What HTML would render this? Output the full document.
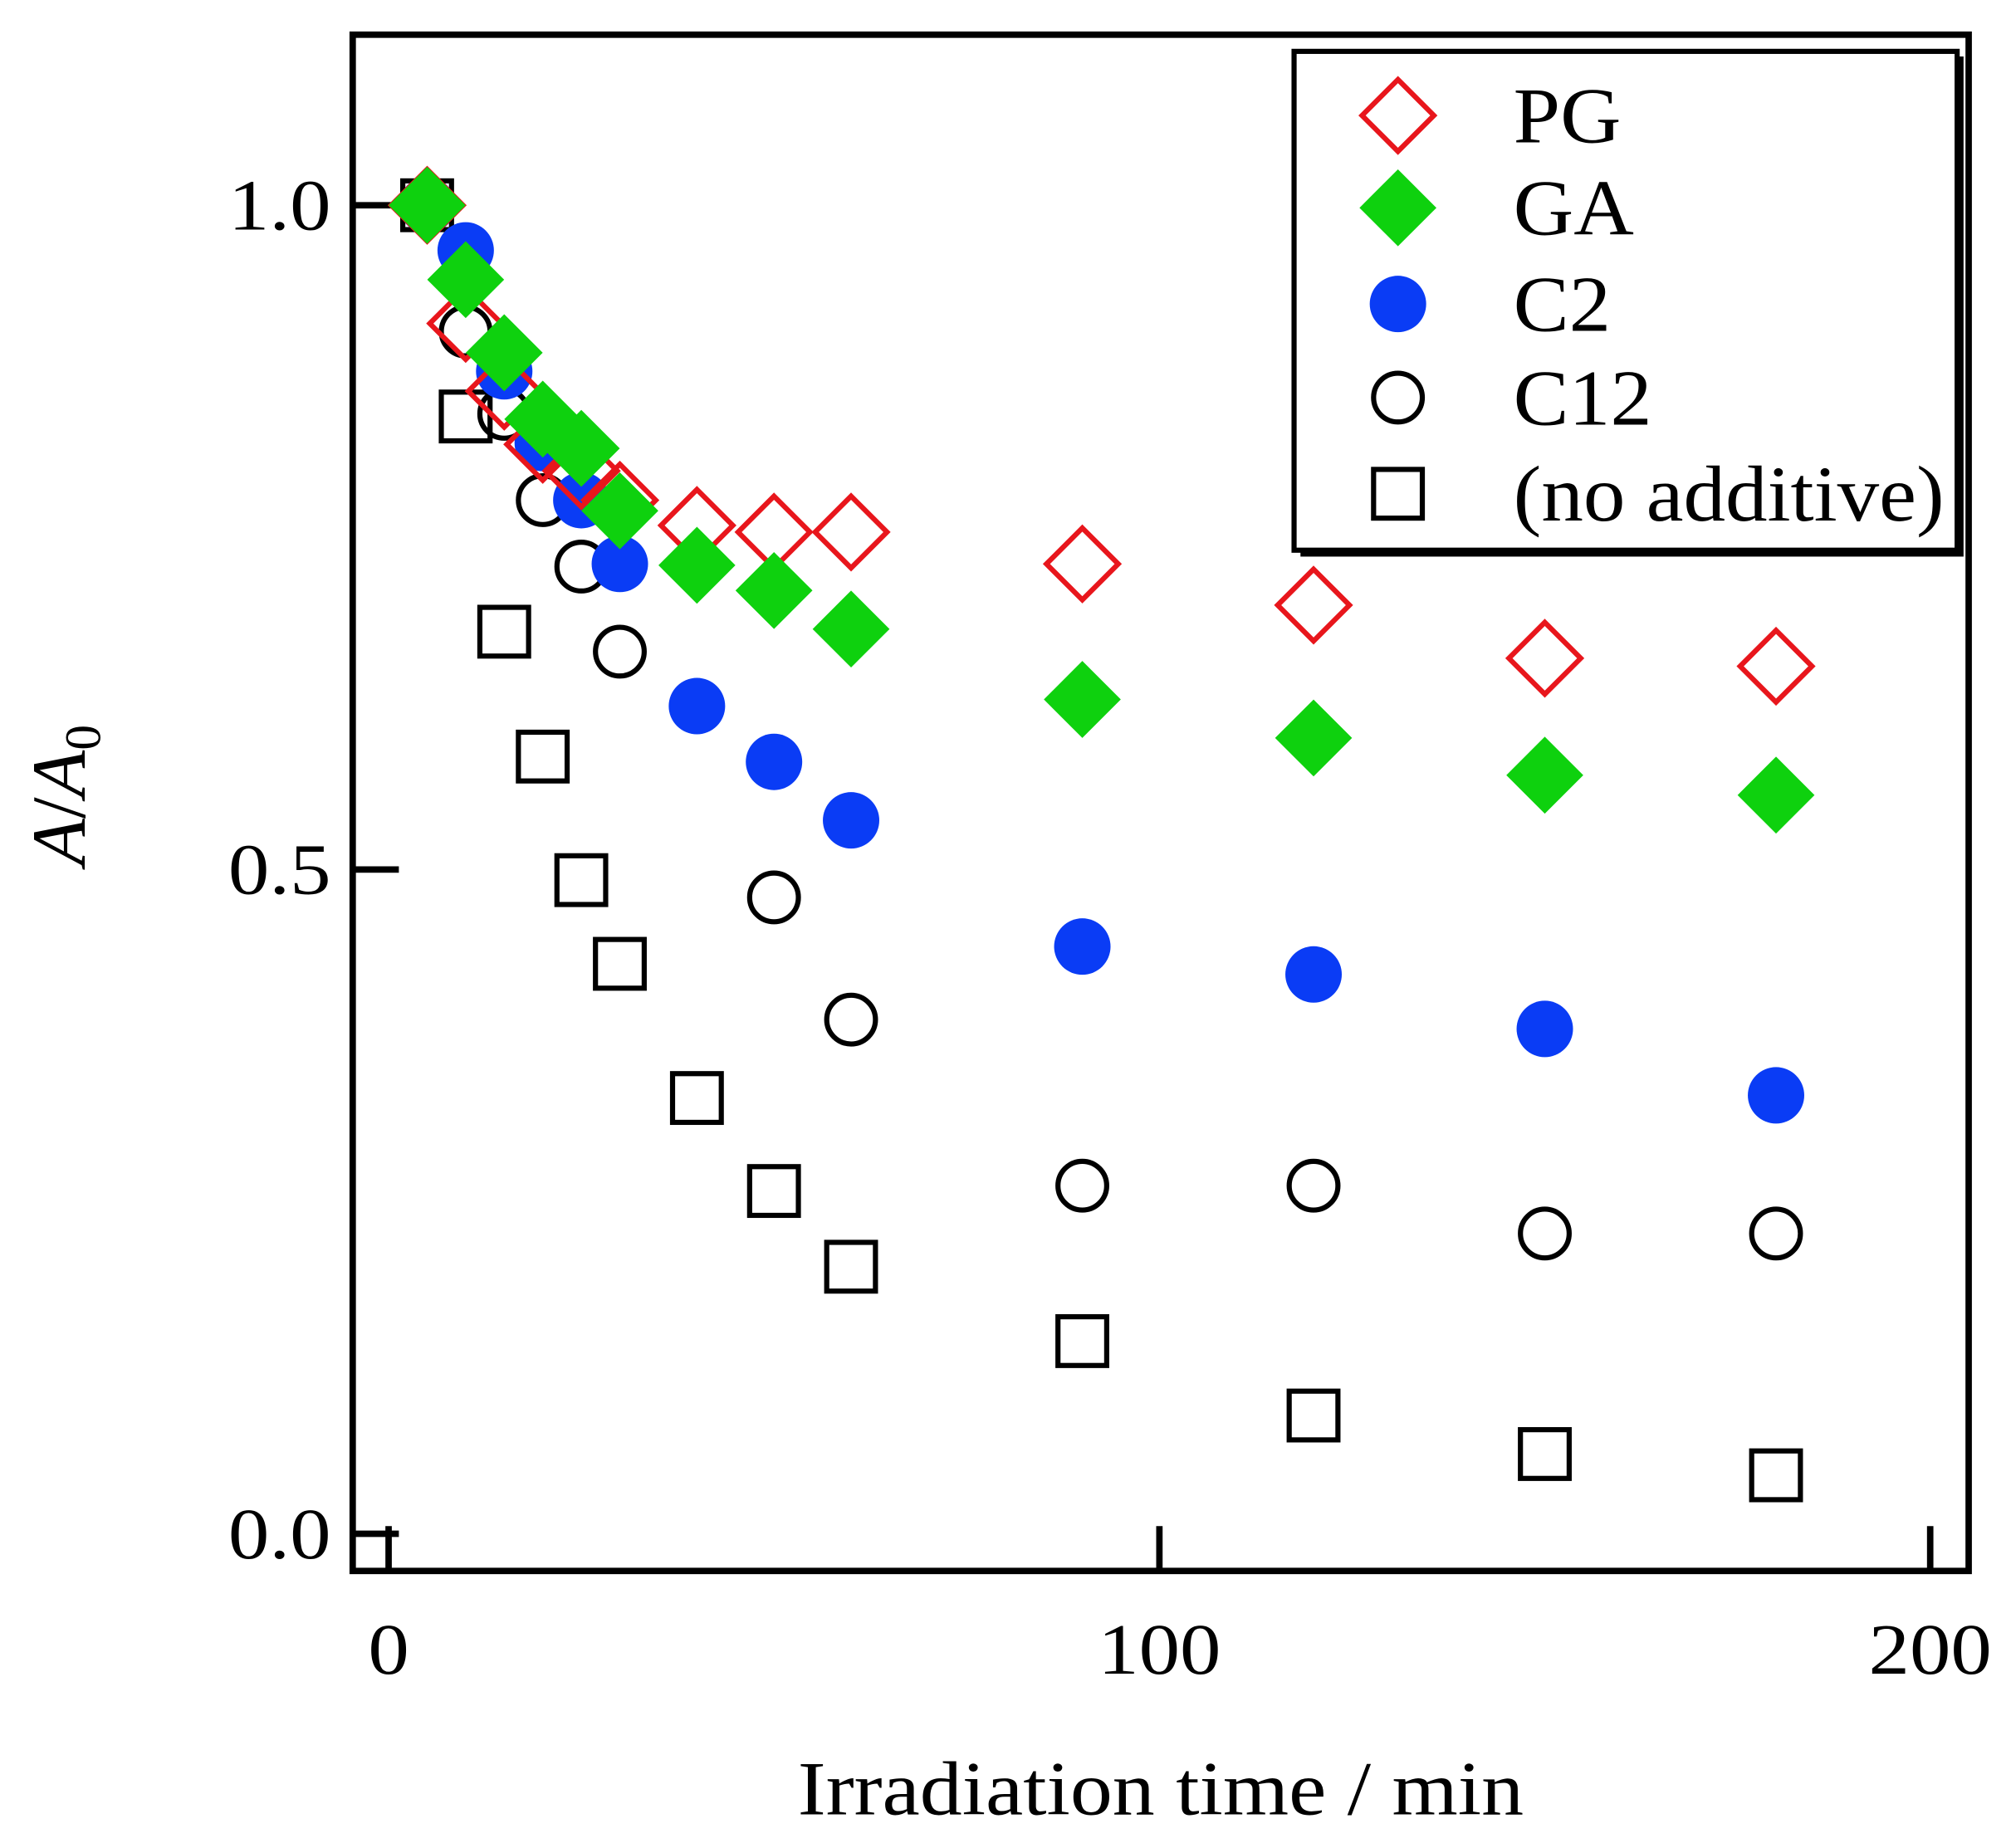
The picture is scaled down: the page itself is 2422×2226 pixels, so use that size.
<!DOCTYPE html>
<html><head><meta charset="utf-8"><style>
html,body{margin:0;padding:0;background:#fff}
svg{display:block}
text{font-family:"Liberation Serif",serif;fill:#000}
</style></head><body>
<svg id="chart" width="2422" height="2226" viewBox="0 0 1568 1441" xmlns="http://www.w3.org/2000/svg">
<rect x="275" y="27" width="1260" height="1198" fill="none" stroke="#000" stroke-width="5"/>
<g id="axes"></g>
<g id="marks"></g>
<g>
<rect x="1014" y="44" width="517" height="390" fill="#000"/>
<rect x="1009" y="40" width="517" height="389" fill="#fff" stroke="#000" stroke-width="4"/>
<g id="legend-items"></g>
</g>
<text x="622" y="1415" font-size="60" textLength="566" lengthAdjust="spacingAndGlyphs">Irradiation time / min</text>
<text transform="translate(66,620) rotate(-90)" font-size="60" text-anchor="middle"><tspan font-style="italic">A</tspan>/<tspan font-style="italic">A</tspan><tspan font-size="40" dy="12">0</tspan></text>
</svg>
<script>
const times=[5,10,15,20,25,30,40,50,60,90,120,150,180];
const pg=[1.0,0.911,0.86,0.82,0.80,0.778,0.759,0.754,0.754,0.730,0.699,0.659,0.653];
const ga=[1.0,0.944,0.889,0.839,0.817,0.770,0.729,0.710,0.681,0.628,0.599,0.571,0.556];
const c2=[1.0,0.966,0.875,0.821,0.778,0.730,0.623,0.581,0.537,0.442,0.421,0.380,0.330];
const c12=[1.0,0.905,0.843,0.778,0.728,0.664,null,0.479,0.387,0.262,0.262,0.226,0.226];
const none=[1.0,0.841,0.679,0.585,0.492,0.429,0.328,0.258,0.201,0.145,0.089,0.060,0.044];
const xTicks=[0,100,200];
const yTicks=[0.0,0.5,1.0];
const yTickLabels=["0.0","0.5","1.0"];
const legendLabels=["PG","GA","C2","C12","(no additive)"];
const legendWidths=[84,94,76,108,336];
const NS="http://www.w3.org/2000/svg";
function xs(v){return 303+v*6.01;}
function ys(v){return 1196-v*1036;}
function mk(tag,attrs,parent){const e=document.createElementNS(NS,tag);for(const k in attrs)e.setAttribute(k,attrs[k]);parent.appendChild(e);return e;}
const axes=document.getElementById('axes');
xTicks.forEach(t=>{
 const l=mk('line',{x1:xs(t),x2:xs(t),y1:1225,y2:1190,stroke:'#000','stroke-width':5},axes);
 
 
 const s=String(t);
 const w=s.length*32;
 const tx=mk('text',{x:xs(t)-w/2,y:1305,'font-size':56,textLength:w,lengthAdjust:'spacingAndGlyphs'},axes);
 tx.textContent=s;
 
 
});
yTicks.forEach((t,i)=>{
 const l=mk('line',{x1:275,x2:311,y1:ys(t),y2:ys(t),stroke:'#000','stroke-width':5},axes);
 
 
 const tx=mk('text',{x:178,y:ys(t)+19,'font-size':56,textLength:80,lengthAdjust:'spacingAndGlyphs'},axes);
 tx.textContent=yTickLabels[i];
 
 
});
function marker(type,cx,cy,parent){
 let e;
 if(type==='pg'){e=mk('polygon',{points:`${cx},${cy-28} ${cx+28},${cy} ${cx},${cy+28} ${cx-28},${cy}`,fill:'none',stroke:'#e8161c','stroke-width':4},parent);}
 else if(type==='ga'){e=mk('polygon',{points:`${cx},${cy-30} ${cx+30},${cy} ${cx},${cy+30} ${cx-30},${cy}`,fill:'#0ed10e'},parent);}
 else if(type==='c2'){e=mk('circle',{cx:cx,cy:cy,r:22,fill:'#0a3cf5'},parent);}
 else if(type==='c12'){e=mk('circle',{cx:cx,cy:cy,r:19,fill:'none',stroke:'#000','stroke-width':4},parent);}
 else {e=mk('rect',{x:cx-19,y:cy-19,width:38,height:38,fill:'none',stroke:'#000','stroke-width':4},parent);}
 return e;
}
const marks=document.getElementById('marks');
const series=[['none',none],['c12',c12],['c2',c2],['pg',pg],['ga',ga]];
series.forEach(([type,vals])=>{
 const g=mk('g',{},marks);
 
 
 vals.forEach((v,i)=>{
  if(v===null)return;
  const m=marker(type,xs(times[i]),ys(v),g);
  
  
 });
});
const li=document.getElementById('legend-items');
const ltypes=['pg','ga','c2','c12','none'];
const ly=[90,162,237,310,385];
ltypes.forEach((t,i)=>{
 const g=mk('g',{},li);
 
 
 marker(t,1090,ly[i],g);
 const tx=mk('text',{x:1180,y:ly[i]+21,'font-size':62,textLength:legendWidths[i],lengthAdjust:'spacingAndGlyphs'},g);
 tx.textContent=legendLabels[i];
});
</script>
</body></html>
